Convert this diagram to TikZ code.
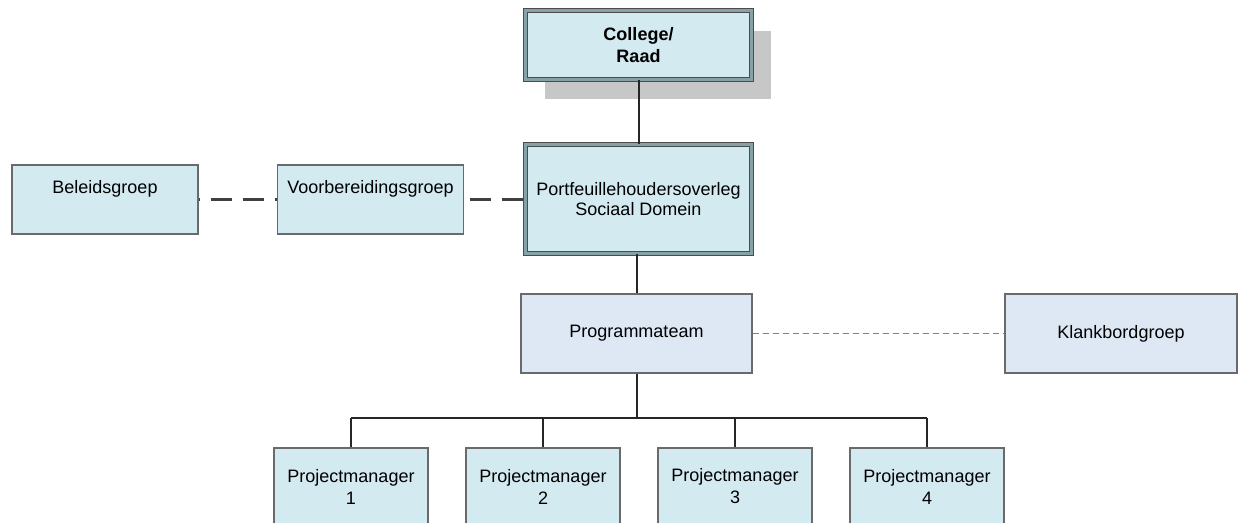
\documentclass[tikz,border=0pt]{standalone}
\usepackage{fontspec}
\setmainfont{Liberation Sans}
\usetikzlibrary{shadows}
\definecolor{boxcyan}{HTML}{D3EAF0}
\definecolor{boxblue}{HTML}{DDE8F4}
\definecolor{boxline}{HTML}{6A6A6A}
\definecolor{bandline}{HTML}{86A2A8}
\begin{document}
\begin{tikzpicture}[x=0.5pt,y=-0.5pt,node distance=96pt,
  box/.style={draw=boxline,line width=0.7pt,fill=boxcyan,inner sep=0pt,
    font=\fontsize{9}{11}\selectfont,align=center},
  topbox/.style={box,draw=black!70,double=bandline,line width=0.55pt,
    double distance=1.5pt,minimum width=112.8pt},
  sidebox/.style={box,minimum width=93pt,text height=14.5pt,text depth=20pt},
  pmbox/.style={box,minimum width=77pt,minimum height=38.5pt},
  conn/.style={draw=black!85,line width=1pt},
  link/.style={draw=black!75,line width=1.5pt,dash pattern=on 10.5pt off 5.5pt}]
\useasboundingbox (0,0) rectangle (1243,523);
\node[topbox,minimum height=34.3pt,font=\fontsize{9}{11}\selectfont\bfseries,
  drop shadow={shadow xshift=9.75pt,shadow yshift=-10pt,fill=black!22,opacity=1}]
  (col) at (638.5,45) {College/\\Raad};
\node[topbox,minimum height=54.8pt] (por) at (638.5,199) {Portfeuillehoudersoverleg\\[-1pt]Sociaal Domein};
\node[sidebox] (bel) at (105,199.5) {Beleidsgroep};
\node[sidebox] (voor) at (370.5,199.5) {Voorbereidingsgroep};
\node[box,fill=boxblue,minimum width=115.5pt,minimum height=39.5pt] (prog) at (636.5,333.5) {Programmateam};
\node[box,fill=boxblue,minimum width=116pt,minimum height=39.5pt] (klank) at (1121,333.5) {Klankbordgroep};
\node[pmbox] (pm1) at (351,486.5) {Projectmanager\\1};
\node[pmbox] (pm2) [right of=pm1] {Projectmanager\\2};
\node[pmbox] (pm3) [right of=pm2] {Projectmanager\\3};
\node[pmbox] (pm4) [right of=pm3] {Projectmanager\\4};
\coordinate (bus) at (0,418);
% lijnen
\draw[conn] (col.south) -- (por.north);
\draw[conn] (prog.north -| 637,0) -- (por.south -| 637,0);
\draw[link,dash phase=10pt] (bel.east) -- (voor.west);
\draw[link,dash phase=13pt] (voor.east) -- (voor.east -| por.west);
\draw[draw=black!50,line width=0.6pt,dash pattern=on 3pt off 2pt] (prog.east) -- (klank.west);
\draw[conn] (prog.south) -- (prog.south |- bus);
\draw[conn] (pm1.north |- bus) -- (pm4.north |- bus);
\foreach \i in {1,...,4}
  \draw[conn] (pm\i.north) -- (pm\i.north |- bus);
\end{tikzpicture}
\end{document}
